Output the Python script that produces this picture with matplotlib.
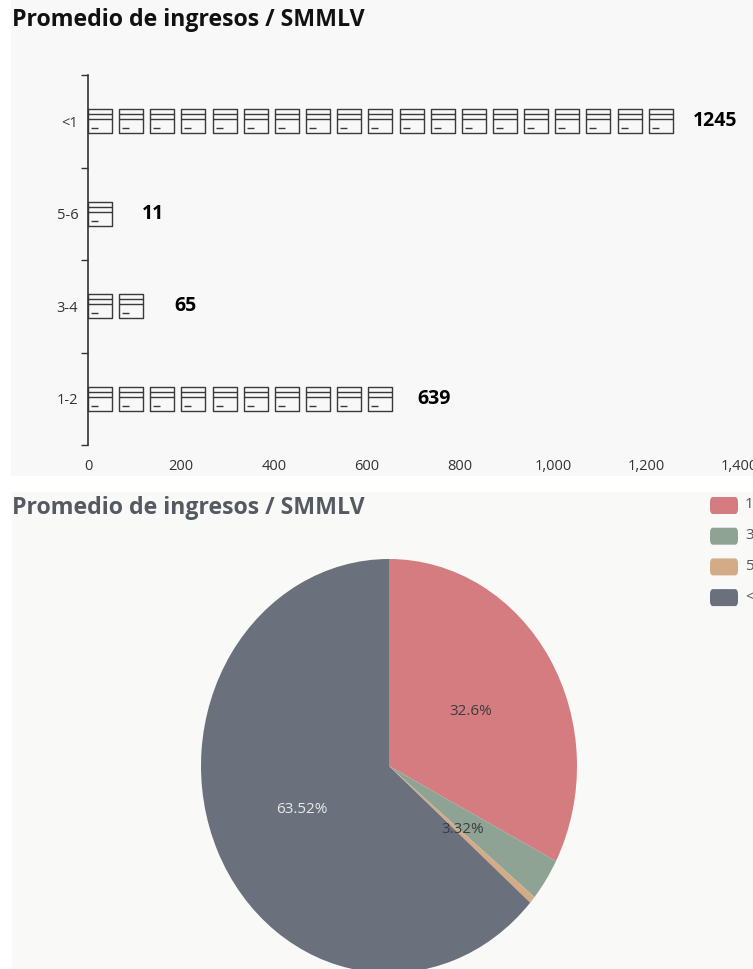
import matplotlib
matplotlib.use("Agg")
from matplotlib import pyplot as plt
from matplotlib.patches import FancyBboxPatch
from matplotlib.path import Path

categories = ["1-2", "3-4", "5-6", "<1"]
values = [639, 65, 11, 1245]
icon_counts = [10, 2, 1, 19]
x_ticks = [0, 200, 400, 600, 800, 1000, 1200, 1400]
pie_colors = ["#d47c80", "#8fa394", "#d3ab86", "#6b717c"]
pct_colors = ["#3c3c3c", "#3c3c3c", "#3c3c3c", "#e8e8e8"]
title = "Promedio de ingresos / SMMLV"

W, H = 753, 969
plt.rcParams["font.family"] = ["Open Sans", "DejaVu Sans"]
fig = plt.figure(figsize=(W / 100, H / 100), dpi=100, facecolor="white")


def px_axes(x0, y0, x1, y1):
    # box given in picture pixels, y going down
    return fig.add_axes([x0 / W, 1 - y1 / H, (x1 - x0) / W, (y1 - y0) / H])


def px_rect(x0, y0, x1, y1, color):
    fig.patches.append(plt.Rectangle((x0 / W, 1 - y1 / H), (x1 - x0) / W, (y1 - y0) / H,
                                     transform=fig.transFigure, color=color, lw=0, zorder=-5))


px_rect(11, 0, W, 476, "#f8f8f8")
px_rect(12, 492, W, H, "#f9f9f7")

# icon as a marker, unit box -1..1
icon = Path(
    [(-1, -1), (1, -1), (1, 1), (-1, 1), (-1, -1),
     (-1, 0.6), (1, 0.6), (-1, 0.18), (1, 0.18),
     (-0.75, -0.55), (-0.18, -0.55)],
    [Path.MOVETO, Path.LINETO, Path.LINETO, Path.LINETO, Path.CLOSEPOLY,
     Path.MOVETO, Path.LINETO, Path.MOVETO, Path.LINETO,
     Path.MOVETO, Path.LINETO],
)

# top panel
ax = px_axes(88, 75, 739, 445)
ax.patch.set_alpha(0)
ax.set_xlim(0, 1400)
ax.set_ylim(-0.5, 3.5)
for s in ["top", "right", "bottom"]:
    ax.spines[s].set_visible(False)
ax.spines["left"].set_color("#333333")
ax.spines["left"].set_linewidth(1.2)
ax.set_yticks([-0.5, 0.5, 1.5, 2.5, 3.5])
ax.set_yticklabels([])
ax.set_yticks(range(4), categories, minor=True)
ax.tick_params(axis="y", which="major", length=5, width=1, color="#333333")
ax.tick_params(axis="y", which="minor", length=0, pad=7, labelsize=10.5, labelcolor="#333333")
ax.set_xticks(x_ticks, [f"{t:,}" for t in x_ticks])
ax.tick_params(axis="x", length=0, pad=10, labelsize=10.5, labelcolor="#333333")
for lab in ax.get_xticklabels():
    lab.set_clip_on(False)

step = 67.0
half = 25.8
label_gap = [25, 31, 30, 20]
for i, (v, n) in enumerate(zip(values, icon_counts)):
    xs = [half + step * k for k in range(n)]
    ax.plot(xs, [i] * n, ls="none", marker=icon, ms=24 * 0.72, mew=1.0,
            mec="#3a3a3a", mfc="none", clip_on=False)
    ax.annotate(str(v), (xs[-1] + half, i), xytext=(label_gap[i] * 0.72, 0), textcoords="offset points",
                va="center", ha="left", fontsize=14, fontweight="bold", color="black")

fig.text(12 / W, 1 - 20 / H, title, fontsize=16.7, fontweight="bold", color="#111111", va="center")

# bottom panel
cx, cy, rx, ry = 389, 766, 188, 207
ax2 = px_axes(12, 492, W, H)
ax2.patch.set_alpha(0)


def fmt_pct(p):
    return f"{round(p, 2):g}%" if p >= 1 else ""


wedges, _, autotexts = ax2.pie(values, colors=pie_colors, startangle=90, counterclock=False,
                               autopct=fmt_pct, pctdistance=0.51, radius=1,
                               textprops={"fontsize": 11})
for t, c in zip(autotexts, pct_colors):
    t.set_color(c)
# small label sits a bit off the slice middle in the original
px_, py_ = autotexts[1].get_position()
autotexts[1].set_position((px_ - 6 / rx, py_ - 5 / ry))
ax2.set_aspect("auto")
ax2.set_xlim((12 - cx) / rx, (W - cx) / rx)
ax2.set_ylim((cy - H) / ry, (cy - 492) / ry)

fig.text(12 / W, 1 - 508 / H, title, fontsize=16.7, fontweight="bold", color="#555a62", va="center")

# legend, runs off the right edge like the original
for i, (name, col) in enumerate(zip(categories, pie_colors)):
    y = 497 + 30.7 * i
    box = FancyBboxPatch((710 / W, 1 - (y + 17) / H), 28 / W, 17 / H,
                         boxstyle="round,pad=0,rounding_size=0.004", mutation_aspect=H / W,
                         transform=fig.transFigure, fc=col, ec="none")
    fig.patches.append(box)
    fig.text(745 / W, 1 - (y + 8) / H, name, fontsize=11, color="#555555", va="center")

fig.savefig("out.png", dpi=100, facecolor=fig.get_facecolor())
